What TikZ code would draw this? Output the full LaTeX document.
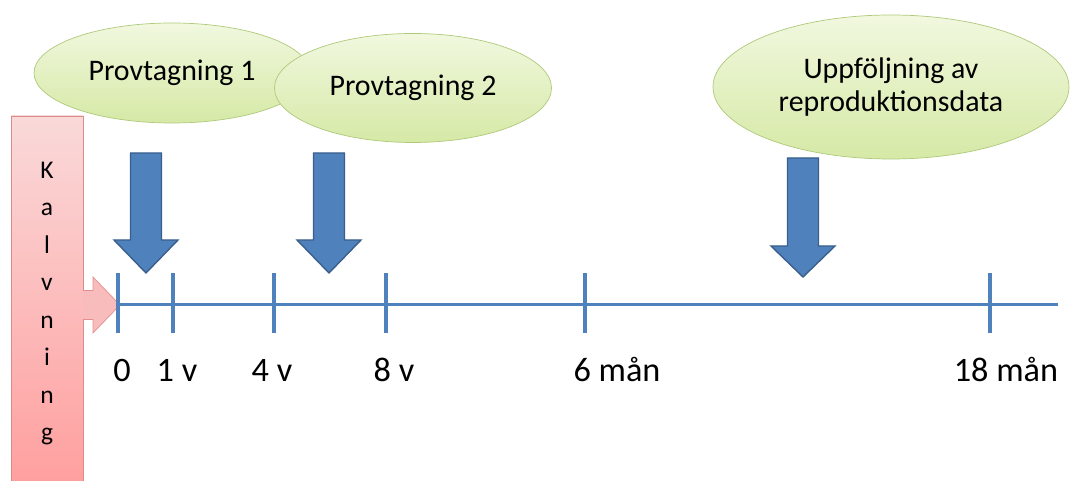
\documentclass[tikz,border=0pt]{standalone}
\usepackage{fontspec}
\setmainfont{Carlito}
\usepackage[dvipsnames]{xcolor}
\usepackage{tikz}
\usetikzlibrary{shapes.geometric}

\definecolor{tlBlue}{HTML}{4F81BD}
\definecolor{arrBorder}{HTML}{3A5F8C}
\definecolor{ellTop}{HTML}{F1F8DF}
\definecolor{ellBottom}{HTML}{D6E9A6}
\definecolor{ellBorder}{HTML}{AFC97A}
\definecolor{kalvTop}{HTML}{FAD9D9}
\definecolor{kalvBottom}{HTML}{FF9E9E}
\definecolor{kalvBorder}{HTML}{D98C8A}
\definecolor{pinkFill}{HTML}{F9BCBC}
\definecolor{pinkBorder}{HTML}{E38F8F}

\begin{document}
\begin{tikzpicture}[
	ellip/.style={ellipse, draw=ellBorder, top color=ellTop, bottom color=ellBottom, inner sep=0pt, align=center, font=\fontsize{17}{19}\selectfont},
	bigArrow/.style={fill=tlBlue, draw=arrBorder, line width=0.8pt},
	tLine/.style={tlBlue, line width=2.8pt},
	tLabel/.style={anchor=base, font=\fontsize{19.5}{22}\selectfont}
]
\useasboundingbox (0,0) rectangle (21.5,9.62);

% Kalvning
\node[draw=kalvBorder, top color=kalvTop, bottom color=kalvBottom, minimum width=1.44cm, minimum height=7.5cm, inner sep=0pt, align=center, font=\fontsize{14.5}{21.3}\selectfont] (kalv) at (0.94,3.55) {K\\a\\l\\v\\n\\i\\n\\g};
\draw[fill=pinkFill, draw=pinkBorder] (1.66,3.81) -- (1.86,3.81) -- (1.86,4.08) -- (2.40,3.52) -- (1.86,2.96) -- (1.86,3.23) -- (1.66,3.23);

% Tidslinje
\coordinate (tStart) at (2.36,3.52);
\coordinate (tEnd) at (21.16,3.52);
\draw[tlBlue, line width=1.7pt] (tStart) -- (tEnd);
\draw[tLine] (2.36,2.96) -- (2.36,4.16);
\draw[tLine] (3.46,2.96) -- (3.46,4.16);
\draw[tLine] (5.48,2.96) -- (5.48,4.16);
\draw[tLine] (7.72,2.96) -- (7.72,4.16);
\draw[tLine] (11.70,2.96) -- (11.70,4.16);
\draw[tLine] (19.80,2.96) -- (19.80,4.16);

\node[tLabel] (l0) at (2.44,1.98) {0};
\node[tLabel] (l1v) at (3.54,1.98) {1 v};
\node[tLabel] (l4v) at (5.44,1.98) {4 v};
\node[tLabel] (l8v) at (7.88,1.98) {8 v};
\node[tLabel] (l6m) at (12.34,1.98) {6 mån};
\node[tLabel] (l18m) at (20.12,1.98) {18 mån};

% Pilar
\draw[bigArrow] (2.61,6.56) -- (3.23,6.56) -- (3.23,4.82) -- (3.56,4.82) -- (2.92,4.16) -- (2.28,4.82) -- (2.61,4.82) -- cycle;
\draw[bigArrow] (6.27,6.56) -- (6.89,6.56) -- (6.89,4.82) -- (7.22,4.82) -- (6.58,4.16) -- (5.94,4.82) -- (6.27,4.82) -- cycle;
\draw[bigArrow] (15.75,6.46) -- (16.37,6.46) -- (16.37,4.70) -- (16.70,4.70) -- (16.06,4.08) -- (15.42,4.70) -- (15.75,4.70) -- cycle;

% Provtagning
\node[ellip, minimum width=5.52cm, minimum height=2.0cm] (prov1) at (3.44,8.16) {Provtagning 1};
\node[ellip, minimum width=5.54cm, minimum height=2.18cm] (prov2) at (8.26,7.86) {Provtagning 2};
\node[ellip, minimum width=7.12cm, minimum height=2.88cm] (uppf) at (17.82,7.88) {Uppföljning av\\reproduktionsdata};
\end{tikzpicture}
\end{document}
